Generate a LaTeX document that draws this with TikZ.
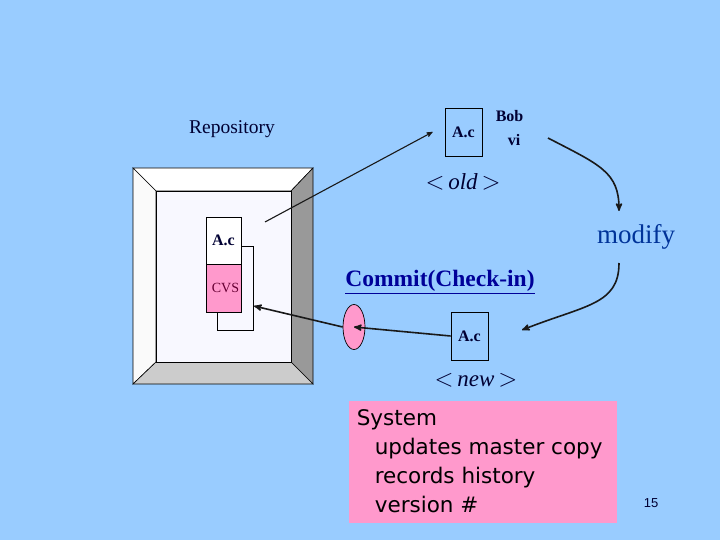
\documentclass[tikz,border=0pt]{standalone}
\usepackage{fontspec}
\setmainfont{Liberation Serif}
\newfontfamily\comicfont{DejaVu Sans}
\newfontfamily\slidesans{Liberation Sans}
\usetikzlibrary{%
  arrows,%
  shapes,%
  positioning,% wg. " of "
  calc
}
\definecolor{slideblue}{HTML}{99CCFF}
\definecolor{notepink}{HTML}{FF99CC}
\definecolor{darkink}{HTML}{000033}
\definecolor{linkblue}{HTML}{000099}
\definecolor{modblue}{HTML}{003399}
\definecolor{cvsink}{HTML}{660033}

\begin{document}
\begin{tikzpicture}[
  x=1pt, y=-1pt,
  >=stealth',
  line width=1.6pt,
  filebox/.style={draw=black, line width=0.8pt, fill=slideblue, minimum width=37pt, minimum height=48pt, inner sep=0pt, font=\fontsize{16}{16}\selectfont\bfseries, text=darkink},
  lbl/.style={inner sep=0pt, text=darkink},
  flow/.style={->, draw=black!90}
]

\fill[slideblue] (0,0) rectangle (720,540);
\useasboundingbox (0,0) rectangle (720,540);

% repository cabinet
\begin{scope}[line width=0.6pt]
\filldraw[fill=white] (133,168) -- (313,168) -- (291,191) -- (156,191) -- cycle;
\filldraw[fill=black!2] (133,168) -- (156,191) -- (156,362) -- (133,384) -- cycle;
\filldraw[fill=black!40] (313,168) -- (313,384) -- (291,362) -- (291,191) -- cycle;
\filldraw[fill=black!20] (133,384) -- (313,384) -- (291,362) -- (156,362) -- cycle;
\filldraw[fill={rgb,255:red,248;green,248;blue,255}] (156,191) rectangle (291,362);
\draw (217,246) rectangle (253,330);
\end{scope}
\node[draw, line width=0.6pt, fill=white, minimum width=35pt, minimum height=47pt, inner sep=0pt,
  font=\fontsize{16}{16}\selectfont\bfseries, text=darkink] (repofile) at (223.5,240.5) {A.c};
\node[draw, line width=0.6pt, fill=notepink, minimum width=35pt, minimum height=48pt, inner sep=0pt,
  font=\fontsize{14}{14}\selectfont, text=cvsink] (cvs) at (223.5,288) {\hspace*{4pt}CVS};
\coordinate (cvsback) at (254,306);
\coordinate (repoin) at (265,222);

\node[lbl, font=\fontsize{19.5}{19.5}\selectfont] (repo) at (232,129) {Repository};

% working copy, old
\node[filebox] (oldfile) at (463.5,132) {A.c};
\node[lbl, font=\fontsize{16}{16}\selectfont\bfseries, anchor=west] (bob) at (495,116) {Bob};
\node[lbl, font=\fontsize{16}{16}\selectfont\bfseries, anchor=west] (vi) at (507,140) {vi};
\node[lbl, font=\fontsize{23}{23}\selectfont] (old) at (463,182) {$<$\,\textit{old}\,$>$};

\node[lbl, font=\fontsize{27}{27}\selectfont, text=modblue] (modify) at (636,237) {modify};
\coordinate (edstart) at (548,138);
\coordinate (edend) at (619,211);
\coordinate (modout) at (619,263);
\coordinate (modend) at (522,330);

% working copy, new
\node[filebox] (newfile) at (469.5,336) {A.c};
\node[lbl, font=\fontsize{23}{23}\selectfont] (new) at (476,380) {$<$\,\textit{new}\,$>$};

\node[lbl, font=\fontsize{23.5}{23.5}\selectfont\bfseries, text=linkblue] (commit) at (440,282) {\underline{Commit(Check-in)}};
\node[draw, line width=0.7pt, fill=notepink, ellipse, minimum width=22pt, minimum height=45pt, inner sep=0pt] (gate) at (354,327) {};

\node[fill=notepink, anchor=north west, minimum width=268pt, minimum height=122pt, inner sep=0pt] (sysbox) at (348,400) {};
\node[lbl, anchor=north west, align=left, text=black, font=\comicfont\fontsize{21.5}{29}\selectfont] (systext) at (356,409)
  {System\\\hspace*{18pt}updates master copy\\\hspace*{18pt}records history\\\hspace*{18pt}version \#};

\node[lbl, font=\slidesans\fontsize{13}{13}\selectfont, text=darkink] (pageno) at (651,503) {15};

% connectors
\draw[flow, line width=1.1pt] (repoin) -- ([xshift=-12pt]oldfile.west);
\draw[flow] (edstart) .. controls (600,165) and (619,172) .. (edend);
\draw[flow] (modout) .. controls (619,305) and (585,305) .. (modend);
\draw[flow] (newfile.west) -- (gate.center);
\draw[flow] (gate.west) -- (cvsback);

\end{tikzpicture}
\end{document}
